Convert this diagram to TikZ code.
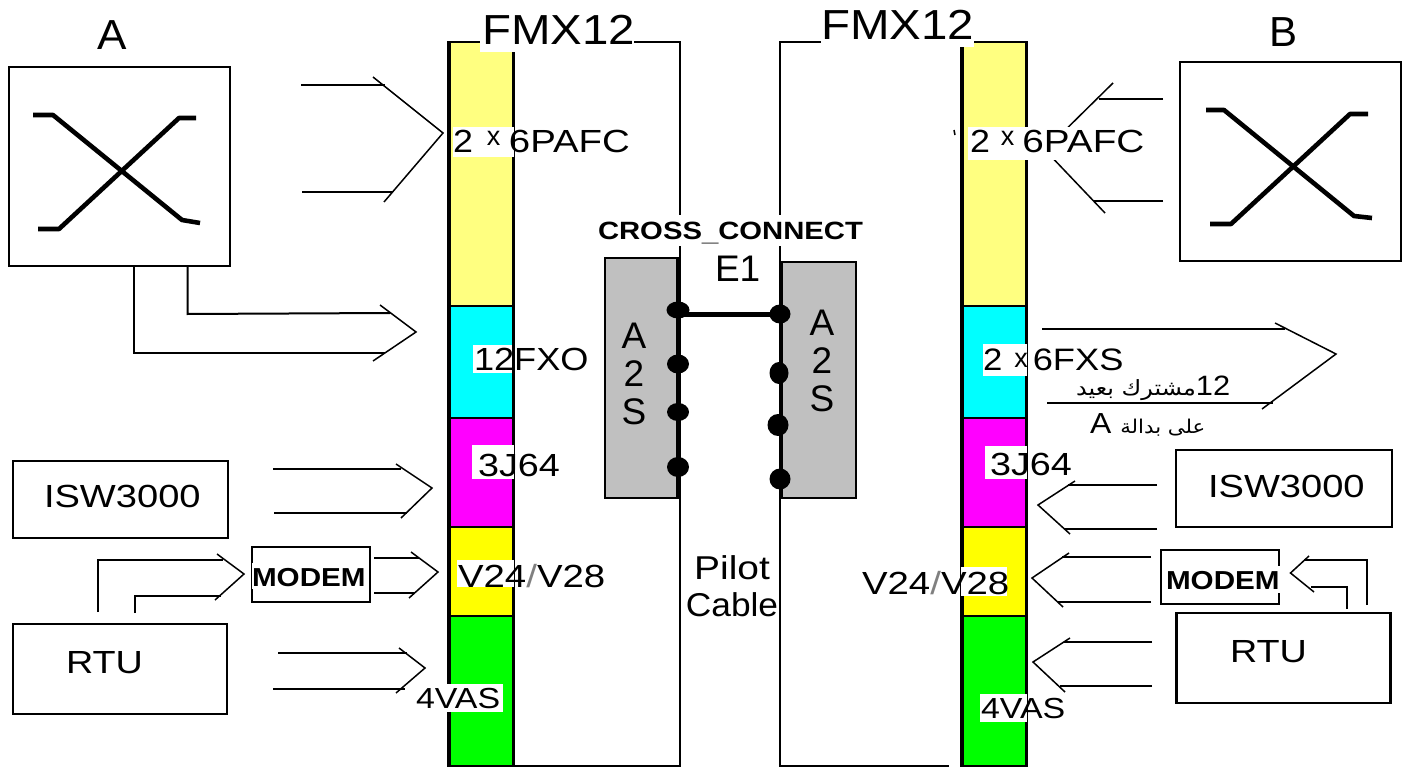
\documentclass[tikz,border=0pt]{standalone}
\usepackage{fontspec}
\usepackage{graphicx}
\setmainfont{Liberation Sans}
\newfontfamily\arabicfont[Script=Arabic]{DejaVu Sans}
\TeXXeTstate=1
\definecolor{palebar}{RGB}{255,255,128}
\definecolor{cyanbar}{RGB}{0,255,255}
\definecolor{magbar}{RGB}{255,0,255}
\definecolor{yelbar}{RGB}{255,255,0}
\definecolor{grnbar}{RGB}{0,255,0}
\definecolor{greybox}{RGB}{192,192,192}
\newcommand\lbl[3]{{\fontsize{#1pt}{#1pt}\selectfont\scalebox{#2}[1]{#3}}}
\newcommand\lblb[3]{{\fontsize{#1pt}{#1pt}\selectfont\bfseries\scalebox{#2}[1]{#3}}}
% chevron arrow: name, line1 start, line1 end, head start, tip, head end, line2 start, line2 end
\newcommand\chev[8]{%
  \coordinate (#1a) at #2; \coordinate (#1b) at #3;
  \coordinate (#1c) at #4; \coordinate (#1d) at #5; \coordinate (#1e) at #6;
  \coordinate (#1f) at #7; \coordinate (#1g) at #8;
  \draw[conn] (#1a) -- (#1b);
  \draw[conn] (#1f) -- (#1g);
  \draw[head] (#1c) -- (#1d) -- (#1e);
}
\tikzset{
  box/.style={draw=black,line width=2.4pt,fill=white,inner sep=0pt,outer sep=0pt},
  bar/.style={draw=black,line width=2.6pt,inner sep=0pt,outer sep=0pt},
  conn/.style={draw=black,line width=2.2pt},
  head/.style={draw=black,line width=1.5pt,line join=miter},
  shell/.style={draw=black,line width=2.2pt},
  xline/.style={draw=black,line width=4.6pt,line join=round},
  txt/.style={anchor=base west,inner sep=0pt,outer sep=0pt,text=black},
  dotnode/.style={ellipse,fill=black,inner sep=0pt,outer sep=0pt},
  patch/.style={fill=white,draw=none}
}
\usetikzlibrary{shapes.geometric}
\begin{document}
\begin{tikzpicture}[x=1pt,y=-1pt]
\useasboundingbox (0,0) rectangle (1410,767);
\fill[white] (0,0) rectangle (1410,767);

% left shell
\coordinate (ls1) at (448,42); \coordinate (ls2) at (680,42); \coordinate (ls3) at (680,766); \coordinate (ls4) at (448,766);
\draw[shell] (ls1) -- (ls2) -- (ls3) -- (ls4);
% right shell
\coordinate (rs1) at (1027,42); \coordinate (rs2) at (780,42); \coordinate (rs3) at (780,766); \coordinate (rs4) at (949,766);
\draw[shell] (rs1) -- (rs2) -- (rs3) -- (rs4);

% left bar
\node[bar,fill=palebar,minimum width=65pt,minimum height=264pt] (L1) at (481,174) {};
\node[bar,fill=cyanbar,minimum width=65pt,minimum height=112pt] (L2) at (481,362) {};
\node[bar,fill=magbar,minimum width=65pt,minimum height=109pt] (L3) at (481,472.5) {};
\node[bar,fill=yelbar,minimum width=65pt,minimum height=89pt] (L4) at (481,571.5) {};
\node[bar,fill=grnbar,minimum width=65pt,minimum height=150pt] (L5) at (481,691) {};
\draw[line width=4pt] (L1.north west) -- (L5.south west);
% right bar
\node[bar,fill=palebar,minimum width=65pt,minimum height=264pt] (R1) at (994,174) {};
\node[bar,fill=cyanbar,minimum width=65pt,minimum height=112pt] (R2) at (994,362) {};
\node[bar,fill=magbar,minimum width=65pt,minimum height=109pt] (R3) at (994,472.5) {};
\node[bar,fill=yelbar,minimum width=65pt,minimum height=89pt] (R4) at (994,571.5) {};
\node[bar,fill=grnbar,minimum width=65pt,minimum height=150pt] (R5) at (994,691) {};
\draw[line width=4pt] (R1.north west) -- (R5.south west);

% grey A2S boxes
\node[bar,draw=black,line width=2pt,fill=greybox,minimum width=74pt,minimum height=240pt] (GL) at (642,378) {};
\node[bar,draw=black,line width=2pt,fill=greybox,minimum width=75pt,minimum height=236pt] (GR) at (818.5,380) {};
\coordinate (gl1) at (678,258); \coordinate (gl2) at (678,498);
\coordinate (gr1) at (781,262); \coordinate (gr2) at (781,498);
\draw[line width=4.5pt] (gl1) -- (gl2);
\draw[line width=4pt] (gr1) -- (gr2);
\node[dotnode,minimum width=23pt,minimum height=17pt] (d1) at (678,310) {};
\node[dotnode,minimum width=22pt,minimum height=19pt] (d2) at (678,364) {};
\node[dotnode,minimum width=22pt,minimum height=18pt] (d3) at (678,412) {};
\node[dotnode,minimum width=22pt,minimum height=20pt] (d4) at (678,467) {};
\node[dotnode,minimum width=21pt,minimum height=19pt] (e1) at (780,314) {};
\node[dotnode,minimum width=19pt,minimum height=22pt] (e2) at (779,373) {};
\node[dotnode,minimum width=21pt,minimum height=22pt] (e3) at (778,425) {};
\node[dotnode,minimum width=21pt,minimum height=21pt] (e4) at (780,479) {};
\draw[line width=5pt] (d1.center |- e1.center) -- (e1.center);

% exchange boxes
\node[box,minimum width=221pt,minimum height=199pt] (A) at (119.5,166.5) {};
\draw[xline] (33,115) -- (53,115) -- (182,220) -- (200,223);
\draw[xline] (38,229) -- (59,229) -- (179,118) -- (196,118);
\node[box,minimum width=221pt,minimum height=199pt] (B) at (1290.5,161.5) {};
\draw[xline] (1206,110) -- (1224,110) -- (1354,216) -- (1372,218);
\draw[xline] (1210,224) -- (1231,224) -- (1350,114) -- (1368,114);

% small boxes
\node[box,minimum width=215pt,minimum height=77pt] (ISWL) at (120.5,499.5) {};
\node[box,minimum width=216pt,minimum height=77pt] (ISWR) at (1284,488.5) {};
\node[box,minimum width=214pt,minimum height=90pt] (RTUL) at (120,669) {};
\node[box,minimum width=214pt,minimum height=90pt] (RTUR) at (1283.5,658) {};
\node[box,minimum width=118pt,minimum height=55pt] (ML) at (311,574.5) {};
\node[box,minimum width=118pt,minimum height=54pt] (MR) at (1220,577) {};

% connectors, left
\chev{p}{(301,85)}{(385,85)}{(373,77)}{(443,133)}{(384,202)}{(302,192)}{(392,192)}
\coordinate (a1) at (134,353); \coordinate (a2) at (385,353);
\coordinate (a3) at (187.5,314); \coordinate (a4) at (390,313);
\draw[conn,line width=2pt] (A.south -| a1) -- (a1) -- (a2);
\draw[conn,line width=2pt] (A.south -| a3) -- (a3) -- (a4);
\coordinate (a5) at (380,305); \coordinate (a6) at (416,332); \coordinate (a7) at (373,361);
\draw[head] (a5) -- (a6) -- (a7);
\chev{i}{(273,469)}{(401,469)}{(396,464)}{(432,488)}{(401,518)}{(274,513)}{(407,513)}
\chev{m}{(374,558)}{(419,558)}{(411,552)}{(438,572)}{(409,598)}{(374,593)}{(415,593)}
\coordinate (t1) at (98,612); \coordinate (t2) at (98,560); \coordinate (t3) at (223,560);
\coordinate (t4) at (135,613); \coordinate (t5) at (135,596); \coordinate (t6) at (221,596);
\draw[conn] (t1) -- (t2) -- (t3);
\draw[conn] (t4) -- (t5) -- (t6);
\coordinate (t7) at (217,554); \coordinate (t8) at (244,574); \coordinate (t9) at (215,600);
\draw[head] (t7) -- (t8) -- (t9);
\chev{v}{(278,653)}{(407,653)}{(399,648)}{(425,668)}{(396,693)}{(273,689)}{(405,689)}

% connectors, right
\chev{q}{(1163,99)}{(1099,99)}{(1113,83)}{(1045,150)}{(1105,213)}{(1163,201)}{(1094,201)}
\chev{f}{(1042,329)}{(1285,329)}{(1275,323)}{(1336,354)}{(1262,409)}{(1047,403)}{(1273,403)}
\chev{j}{(1157,485)}{(1068,485)}{(1075,481)}{(1038,505)}{(1070,534)}{(1157,529)}{(1064,529)}
\chev{n}{(1151,557)}{(1062,557)}{(1069,553)}{(1032,578)}{(1063,607)}{(1151,602)}{(1058,602)}
\coordinate (u1) at (1367,605); \coordinate (u2) at (1367,560); \coordinate (u3) at (1304,560);
\coordinate (u4) at (1347,609); \coordinate (u5) at (1347,587); \coordinate (u6) at (1311,587);
\draw[conn] (u1) -- (u2) -- (u3);
\draw[conn] (u4) -- (u5) -- (u6);
\coordinate (u7) at (1309,556); \coordinate (u8) at (1290.5,573); \coordinate (u9) at (1314,592);
\draw[head] (u7) -- (u8) -- (u9);
\chev{w}{(1152,642)}{(1064,642)}{(1070,638)}{(1033,662)}{(1065,692)}{(1152,686)}{(1060,686)}
\coordinate (k1) at (954,130); \coordinate (k2) at (955,135);
\draw[line width=1.5pt] (k1) -- (k2);

% white label backgrounds
\fill[patch] (480,8) rectangle (634,52);
\fill[patch] (821,5) rectangle (974,47);
\fill[patch] (453,127) rectangle (514,157);
\fill[patch] (968,127) rectangle (1146,160);
\fill[patch] (473,345) rectangle (512,373);
\fill[patch] (983,344) rectangle (1027,376);
\fill[patch] (472,445) rectangle (514,479);
\fill[patch] (985,446) rectangle (1027,479);
\fill[patch] (457,560) rectangle (514,587);
\fill[patch] (961,567) rectangle (1007,596);
\fill[patch] (415,684) rectangle (503,712);
\fill[patch] (980,694) rectangle (1027,722);
\fill[patch] (598,215) rectangle (863,246);
\fill[patch] (252,563) rectangle (369,589);
\fill[patch] (1166,566) rectangle (1280,593);

% labels
\node[txt] (tA) at (97,50) {\lbl{42}{1.05}{A}};
\node[txt] (tB) at (1269,47) {\lbl{42}{1}{B}};
\node[txt] (tF1) at (482,45) {\lbl{42}{1.13}{FMX12}};
\node[txt] (tF2) at (821,40) {\lbl{42}{1.13}{FMX12}};
\node[txt] (tP1) at (453,153) {\lbl{32}{1.12}{2}\hspace{14pt}\raisebox{7pt}{\lbl{27}{1}{x}}\hspace{8.5pt}\lbl{32}{1.2}{6PAFC}};
\node[txt] (tP2) at (970,153) {\lbl{32}{1.12}{2}\hspace{11pt}\raisebox{7pt}{\lbl{27}{1}{x}}\hspace{8pt}\lbl{32}{1.21}{6PAFC}};
\node[txt] (tX) at (474,370) {\lbl{32}{1.13}{12FXO}};
\node[txt] (tS) at (983,370) {\lbl{31}{1.12}{2}\hspace{12pt}\raisebox{3pt}{\lbl{27}{1}{x}}\hspace{5pt}\lbl{31}{1.17}{6FXS}};
\node[txt] (tJ1) at (478,476) {\lbl{32}{1.18}{3J64}};
\node[txt] (tJ2) at (990,475) {\lbl{32}{1.18}{3J64}};
\node[txt] (tV1) at (458,587) {\lbl{32}{1.2}{V24\textcolor{gray}{/}V28}};
\node[txt] (tV2) at (862,594) {\lbl{32}{1.2}{V24\textcolor{gray}{/}V28}};
\node[txt] (tW1) at (416,708) {\lbl{29}{1.17}{4VAS}};
\node[txt] (tW2) at (981,718) {\lbl{29}{1.17}{4VAS}};
\node[txt] (tC) at (598,240) {\lblb{25}{1.17}{CROSS\textcolor{gray}{\mdseries\_}CONNECT}};
\node[txt] (tE) at (715,282) {\lbl{37}{1}{E1}};
\node[txt,align=center,anchor=north,font=\fontsize{37pt}{38pt}\selectfont] (tL) at (634,323) {A\\2\\S};
\node[txt,align=center,anchor=north,font=\fontsize{37pt}{38pt}\selectfont] (tR) at (822,310) {A\\2\\S};
\node[txt,align=center,anchor=north,font=\fontsize{33pt}{37pt}\selectfont] (tPC) at (732,556) {\lbl{33}{1.18}{Pilot}\\\lbl{33}{1.07}{Cable}};
\node[txt] (tI1) at (44,507) {\lbl{32}{1.19}{ISW3000}};
\node[txt] (tI2) at (1208,497) {\lbl{32}{1.19}{ISW3000}};
\node[txt] (tM1) at (252,586) {\lblb{26}{1.14}{MODEM}};
\node[txt] (tM2) at (1166,589) {\lblb{26}{1.14}{MODEM}};
\node[txt] (tU1) at (66,673) {\lbl{32}{1.18}{RTU}};
\node[txt] (tU2) at (1230,662) {\lbl{32}{1.18}{RTU}};
\node[txt] (tAr1) at (1076,395) {{\arabicfont\fontsize{21pt}{21pt}\selectfont\scalebox{1.14}[1]{\beginR مشترك بعيد\endR}}\lbl{28}{1.1}{12}};
\node[txt] (tAr2) at (1090,433) {\lbl{29}{1.1}{A}\hspace{9pt}{\arabicfont\fontsize{19pt}{19pt}\selectfont\scalebox{1.12}[1]{\beginR على بدالة\endR}}};
\end{tikzpicture}
\end{document}
